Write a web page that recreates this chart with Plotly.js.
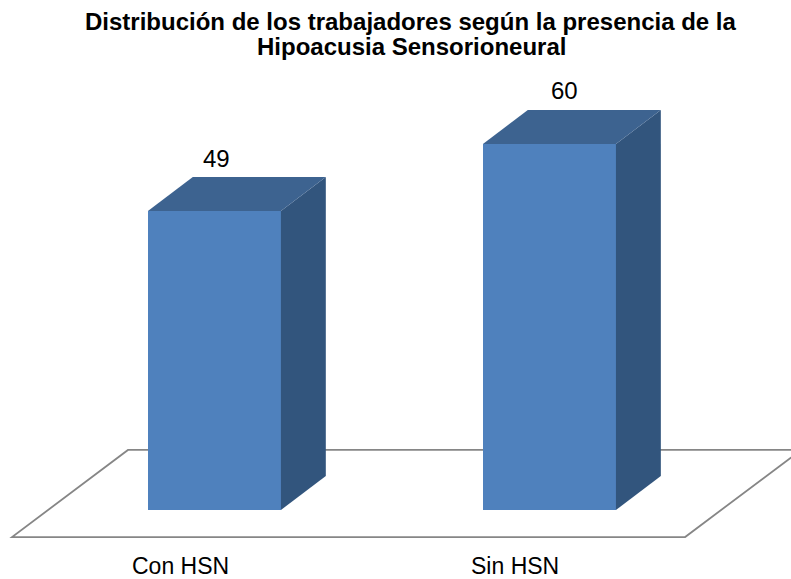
<!DOCTYPE html>
<html>
<head>
<meta charset="utf-8">
<script src="https://cdn.plot.ly/plotly-3.0.1.min.js"></script>
<style>html,body{margin:0;padding:0;background:#fff;}#chart{width:791px;height:579px;}</style>
</head>
<body>
<div id="chart"></div>
<script>
// Data
var categories = ["Con HSN", "Sin HSN"];
var values = [49, 60];
var titleLines = ["Distribución de los trabajadores según la presencia de la", "Hipoacusia Sensorioneural"];

// Style / geometry (in axis units)
var barWidth = 0.397;
var depthX = 0.134;
var depthY = 5.57;
var frontColor = "#4F81BD";
var topColor = "#3D6390";
var sideColor = "#32557D";
var valueLabelXShift = [2, 15];
var fontFam = "Liberation Sans, Arial, sans-serif";

var xs = categories.map(function (c, i) { return i; });
var traces = [];

traces.push({
  type: "bar", x: xs, y: values, width: barWidth,
  marker: { color: frontColor, line: { width: 0 } },
  hoverinfo: "skip", showlegend: false
});

xs.forEach(function (x, i) {
  var v = values[i];
  var l = x - barWidth / 2, r = x + barWidth / 2;
  traces.push({
    type: "scatter", mode: "lines", fill: "toself", fillcolor: sideColor,
    line: { width: 0, color: sideColor },
    x: [r, r + depthX, r + depthX, r, r],
    y: [0, depthY, v + depthY, v, 0],
    hoverinfo: "skip", showlegend: false
  });
  traces.push({
    type: "scatter", mode: "lines", fill: "toself", fillcolor: topColor,
    line: { width: 0, color: topColor },
    x: [l, l + depthX, r + depthX, r, l],
    y: [v, v + depthY, v + depthY, v, v],
    hoverinfo: "skip", showlegend: false
  });
});

var annotations = [];
xs.forEach(function (x, i) {
  annotations.push({
    x: x, y: values[i] + depthY, xref: "x", yref: "y",
    text: String(values[i]), showarrow: false,
    yanchor: "middle", yshift: 19, xshift: valueLabelXShift[i],
    font: { family: fontFam, size: 24, color: "#000" }
  });
  annotations.push({
    x: x, y: -9.1, xref: "x", yref: "y",
    text: categories[i], showarrow: false, yanchor: "middle",
    xshift: -34,
    font: { family: fontFam, size: 23, color: "#000" }
  });
});
titleLines.forEach(function (t, k) {
  annotations.push({
    xref: "paper", yref: "paper", x: 411 / 791, y: 1 - (21 + 25 * k) / 579,
    xanchor: "center", yanchor: "middle", showarrow: false, text: "<b>" + t + "</b>",
    font: { family: fontFam, size: 24, color: "#000" }
  });
});

// Floor parallelogram (axis units)
var floorFrontY = -4.43, floorBackY = 9.84;
var shapes = [{
  type: "path", xref: "x", yref: "y", layer: "below",
  path: "M -0.604 " + floorFrontY + " L 1.405 " + floorFrontY +
        " L 1.751 " + floorBackY + " L -0.258 " + floorBackY + " Z",
  line: { color: "#868686", width: 1.8 }, fillcolor: "rgba(0,0,0,0)"
}];

var layout = {
  width: 791, height: 579,
  margin: { l: 0, r: 0, t: 0, b: 0 },
  paper_bgcolor: "#fff", plot_bgcolor: "#fff",
  xaxis: { range: [-0.64, 1.721], visible: false, fixedrange: true },
  yaxis: { range: [-11.31, 83.6], visible: false, fixedrange: true },
  showlegend: false,
  shapes: shapes,
  annotations: annotations,
  bargap: 0
};

Plotly.newPlot("chart", traces, layout, { displayModeBar: false, staticPlot: true });
</script>
</body>
</html>
